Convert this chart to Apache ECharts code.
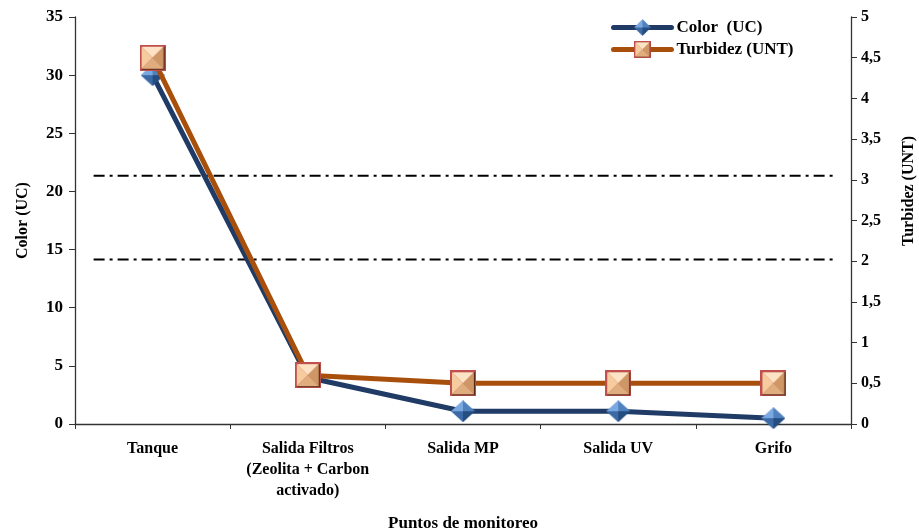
<!DOCTYPE html>
<html>
<head>
<meta charset="utf-8">
<script src="https://cdn.jsdelivr.net/npm/echarts@6/dist/echarts.min.js"></script>
<style>
  html, body { margin: 0; padding: 0; background: #ffffff; }
  #chart { width: 919px; height: 529px; }
</style>
</head>
<body>
<div id="chart"></div>
<script>
// Monitoring points along the treatment train
const categories = ['Tanque', 'Salida Filtros\n(Zeolita + Carbon\nactivado)', 'Salida MP', 'Salida UV', 'Grifo'];
// Colour (UC), left axis
const colorUC = [30, 4, 1.1, 1.1, 0.5];
// Turbidity (UNT), right axis
const turbidezUNT = [4.5, 0.6, 0.5, 0.5, 0.5];
// Reference levels (UNT) drawn as dash-dot lines, and their horizontal extent in category units
const limitLevels = [3.05, 2.02];
const limitSpan = [-0.38, 4.39];
// Axis ranges
const colorAxis = { min: 0, max: 35, step: 5 };
const turbAxis = { min: 0, max: 5, step: 0.5 };

const FONT = '"Liberation Serif", "Times New Roman", serif';

// Bevelled pyramid square marker
function squareMarker(size) {
  const c = document.createElement('canvas');
  c.width = size; c.height = size;
  const g = c.getContext('2d');
  const b = 2, s = size;
  g.fillStyle = '#c0504d';
  g.fillRect(0, 0, s, s);
  const x0 = b, y0 = b, x1 = s - b, y1 = s - b, cx = s / 2, cy = s / 2;
  const tri = (pts, col) => {
    g.beginPath(); g.moveTo(pts[0][0], pts[0][1]);
    for (let i = 1; i < pts.length; i++) g.lineTo(pts[i][0], pts[i][1]);
    g.closePath(); g.fillStyle = col; g.fill();
  };
  tri([[x0, y0], [x1, y0], [cx, cy]], '#fde3c4');
  tri([[x0, y0], [x0, y1], [cx, cy]], '#f6cc9f');
  tri([[x1, y0], [x1, y1], [cx, cy]], '#cf9766');
  tri([[x0, y1], [x1, y1], [cx, cy]], '#e0ad7f');
  g.strokeStyle = '#5a2a1a'; g.lineWidth = 1.2;
  g.beginPath(); g.moveTo(x1 + 0.5, y0); g.lineTo(x1 + 0.5, y1 + 0.5); g.lineTo(x0, y1 + 0.5); g.stroke();
  return 'image://' + c.toDataURL();
}

// Bevelled diamond marker
function diamondMarker(w, h) {
  const c = document.createElement('canvas');
  c.width = w; c.height = h;
  const g = c.getContext('2d');
  const cx = w / 2, cy = h / 2;
  const tri = (pts, col) => {
    g.beginPath(); g.moveTo(pts[0][0], pts[0][1]);
    for (let i = 1; i < pts.length; i++) g.lineTo(pts[i][0], pts[i][1]);
    g.closePath(); g.fillStyle = col; g.fill();
  };
  tri([[0, cy], [cx, 0], [cx, cy]], '#7aa8e0');
  tri([[cx, 0], [w, cy], [cx, cy]], '#4f81bd');
  tri([[0, cy], [cx, h], [cx, cy]], '#3b6aa6');
  tri([[w, cy], [cx, h], [cx, cy]], '#254d80');
  return 'image://' + c.toDataURL();
}

const squareSym = squareMarker(26);
const diamondSym = diamondMarker(24, 22);

const limitSeries = limitLevels.map((lv, i) => ({
  name: 'limite' + i,
  type: 'line',
  xAxisIndex: 1,
  yAxisIndex: 1,
  data: [[limitSpan[0], lv], [limitSpan[1], lv]],
  symbol: 'none',
  silent: true,
  lineStyle: { color: '#000000', width: 2, type: [11, 5, 3, 5] },
  z: 1
}));

const chart = echarts.init(document.getElementById('chart'));
chart.setOption({
  animation: false,
  backgroundColor: '#ffffff',
  textStyle: { fontFamily: FONT },
  grid: { left: 75, right: 68, top: 17, bottom: 105, outerBoundsMode: 'none', containLabel: false },
  legend: {
    data: ['Color  (UC)', 'Turbidez (UNT)'],
    orient: 'vertical',
    left: 606,
    top: 14,
    itemWidth: 58,
    itemHeight: 21,
    itemGap: 5,
    lineStyle: { width: 5, cap: 'round' },
    textStyle: { fontFamily: FONT, fontWeight: 'bold', fontSize: 17, color: '#000' }
  },
  graphic: [
    {
      type: 'text',
      x: 909, y: 191,
      rotation: Math.PI / 2,
      style: {
        text: 'Turbidez (UNT)',
        font: 'bold 16px ' + FONT,
        fill: '#000',
        align: 'center',
        verticalAlign: 'middle'
      }
    }
  ],
  xAxis: [
    {
      type: 'category',
      data: categories,
      boundaryGap: true,
      axisLine: { onZero: false, lineStyle: { color: '#333', width: 1.3 } },
      axisTick: { show: true, length: 5, lineStyle: { color: '#333' } },
      axisLabel: {
        interval: 0, margin: 14, color: '#000',
        fontFamily: FONT, fontWeight: 'bold', fontSize: 16, lineHeight: 21
      },
      name: 'Puntos de monitoreo',
      nameLocation: 'middle',
      nameGap: 91,
      nameTextStyle: { fontFamily: FONT, fontWeight: 'bold', fontSize: 17, color: '#000' }
    },
    { type: 'value', min: -0.5, max: 4.5, show: false }
  ],
  yAxis: [
    {
      type: 'value',
      min: colorAxis.min, max: colorAxis.max, interval: colorAxis.step,
      splitLine: { show: false },
      axisLine: { show: true, onZero: false, lineStyle: { color: '#333', width: 1.3 } },
      axisTick: { show: true, length: 6, lineStyle: { color: '#333' } },
      axisLabel: { color: '#000', fontFamily: FONT, fontWeight: 'bold', fontSize: 17, margin: 12 },
      name: 'Color (UC)',
      nameLocation: 'middle',
      nameGap: 44,
      nameTextStyle: { fontFamily: FONT, fontWeight: 'bold', fontSize: 16, color: '#000' }
    },
    {
      type: 'value',
      position: 'right',
      min: turbAxis.min, max: turbAxis.max, interval: turbAxis.step,
      splitLine: { show: false },
      axisLine: { show: true, onZero: false, lineStyle: { color: '#333', width: 1.3 } },
      axisTick: { show: true, length: 6, lineStyle: { color: '#333' } },
      axisLabel: {
        color: '#000', fontFamily: FONT, fontWeight: 'bold', fontSize: 16, margin: 10,
        formatter: v => String(v).replace('.', ',')
      }
    }
  ],
  series: [
    ...limitSeries,
    {
      name: 'Color  (UC)',
      type: 'line',
      yAxisIndex: 0,
      data: colorUC,
      symbol: diamondSym,
      symbolSize: [24, 22],
      lineStyle: { color: '#1f3b66', width: 5 },
      itemStyle: { color: '#1f3b66' },
      z: 3
    },
    {
      name: 'Turbidez (UNT)',
      type: 'line',
      yAxisIndex: 1,
      data: turbidezUNT,
      symbol: squareSym,
      symbolSize: 26,
      lineStyle: { color: '#a94f0c', width: 5 },
      itemStyle: { color: '#a94f0c' },
      z: 4
    }
  ]
});
</script>
</body>
</html>
